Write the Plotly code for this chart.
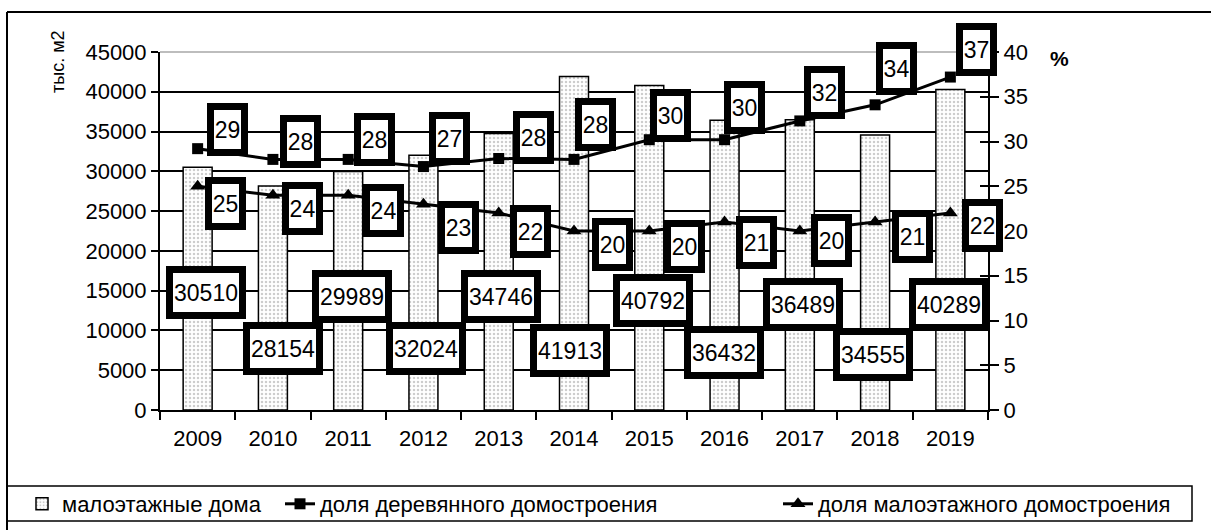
import plotly.graph_objects as go

# ---------------- data ----------------
years = ["2009", "2010", "2011", "2012", "2013", "2014", "2015", "2016", "2017", "2018", "2019"]
lowrise_area = [30510, 28154, 29989, 32024, 34746, 41913, 40792, 36432, 36489, 34555, 40289]
wood_share = [29.2, 28.0, 28.0, 27.2, 28.1, 28.0, 30.2, 30.2, 32.3, 34.1, 37.2]
lowrise_share = [25, 24, 24, 23, 22, 20, 20, 21, 20, 21, 22]
left_ticks = [0, 5000, 10000, 15000, 20000, 25000, 30000, 35000, 40000, 45000]
right_ticks = [0, 5, 10, 15, 20, 25, 30, 35, 40]

name_bar = "малоэтажные дома"
name_wood = "доля деревянного домостроения"
name_low = "доля малоэтажного домостроения"

# ---------------- label placement (styling only) ----------------
area_label_y = [14830, 7790, 14270, 7730, 14270, 7480, 13760, 7290, 13200, 6980, 13260]
area_label_dx = [8, 10, 4, 3, 2, -4, 4, -1, 3, -2, -1]
wood_label_dx = [30, 28, 26, 26, 35, 21, 21, 20, 25, 21, 26]
wood_label_dy = [19, 18, 20, 28, 21, 35, 24, 32, 28, 36, 28]
low_label_dx = [28, 30, 35, 35, 32, 38, 35, 32, 32, 37, 32]
low_label_dy = [-17, -13, -15, -23, -18, -13, -15, -20, -9, -14, -12]

FONT = "Arial, Liberation Sans, sans-serif"
W, H = 1211, 530
L, R, T, B = 160, 988, 52, 410


def px(xp):
    return xp / W


def py(yp):
    return 1 - yp / H


fig = go.Figure()

fig.add_trace(go.Bar(
    x=years, y=lowrise_area, name=name_bar, width=0.385,
    marker=dict(color="white", line=dict(color="black", width=1.5),
                pattern=dict(shape=".", size=4, solidity=0.3,
                             fgcolor="#9a9a9a", bgcolor="white")),
    yaxis="y", legend="legend",
))
fig.add_trace(go.Scatter(
    x=years, y=wood_share, name=name_wood, mode="lines+markers",
    line=dict(color="black", width=3),
    marker=dict(symbol="square", size=11, color="black"),
    yaxis="y2", legend="legend2",
))
fig.add_trace(go.Scatter(
    x=years, y=lowrise_share, name=name_low, mode="lines+markers",
    line=dict(color="black", width=3),
    marker=dict(symbol="triangle-up", size=13, color="black"),
    yaxis="y2", legend="legend3",
))
# invisible helper trace to activate the inner-tick overlay axis
fig.add_trace(go.Scatter(x=[years[0]], y=[0], yaxis="y3", mode="markers",
                         marker=dict(opacity=0), showlegend=False, hoverinfo="skip"))

annotations = []
label_font = dict(family=FONT, size=23, color="black")
BW = 7
for i, yr in enumerate(years):
    annotations.append(dict(
        x=i, y=area_label_y[i], xref="x", yref="y", text=str(lowrise_area[i]),
        showarrow=False, xshift=area_label_dx[i], xanchor="center", yanchor="middle",
        font=label_font, bgcolor="white", bordercolor="black", borderwidth=BW,
        borderpad=0, width=66, height=39))
    annotations.append(dict(
        x=i, y=wood_share[i], xref="x", yref="y2", text=str(round(wood_share[i])),
        showarrow=False, xshift=wood_label_dx[i], yshift=wood_label_dy[i],
        xanchor="center", yanchor="middle",
        font=label_font, bgcolor="white", bordercolor="black", borderwidth=BW,
        borderpad=0, width=27, height=39))
    annotations.append(dict(
        x=i, y=lowrise_share[i], xref="x", yref="y2", text=str(round(lowrise_share[i])),
        showarrow=False, xshift=low_label_dx[i], yshift=low_label_dy[i],
        xanchor="center", yanchor="middle",
        font=label_font, bgcolor="white", bordercolor="black", borderwidth=BW,
        borderpad=0, width=27, height=39))

annotations.append(dict(
    x=px(58), y=py(62), xref="paper", yref="paper", text="тыс. м2", textangle=-90,
    showarrow=False, xanchor="center", yanchor="middle",
    font=dict(family=FONT, size=18, color="black")))
annotations.append(dict(
    x=px(1059), y=py(59), xref="paper", yref="paper", text="<b>%</b>",
    showarrow=False, xanchor="center", yanchor="middle",
    font=dict(family=FONT, size=21, color="black")))

shapes = [
    # top gridline drawn grey
    dict(type="line", xref="paper", yref="paper", x0=px(L), x1=px(R), y0=py(T), y1=py(T),
         line=dict(color="#bdbdbd", width=2), layer="above"),
    # outer chart border
    dict(type="line", xref="paper", yref="paper", x0=px(7), x1=px(1215), y0=py(12), y1=py(12),
         line=dict(color="black", width=2)),
    dict(type="line", xref="paper", yref="paper", x0=px(7), x1=px(7), y0=py(12), y1=py(535),
         line=dict(color="black", width=2)),
    # legend box
    dict(type="rect", xref="paper", yref="paper", x0=px(7), x1=px(1192), y0=py(486), y1=py(521),
         line=dict(color="black", width=1.5)),
]

leg_common = dict(orientation="h", yanchor="middle", xanchor="left",
                  font=dict(family=FONT, size=22, color="black"),
                  bgcolor="rgba(0,0,0,0)", borderwidth=0, itemwidth=30)

tick_font = dict(family=FONT, size=22, color="black")

fig.update_layout(
    width=W, height=H,
    margin=dict(l=0, r=0, t=0, b=0, pad=0),
    paper_bgcolor="white", plot_bgcolor="white",
    font=dict(family=FONT, size=20, color="black"),
    showlegend=True,
    legend=dict(x=px(22), y=py(504), **leg_common),
    legend2=dict(x=px(280), y=py(504), **leg_common),
    legend3=dict(x=px(778), y=py(504), **leg_common),
    xaxis=dict(type="category", range=[-0.5, 10.5], domain=[px(L), px(R)],
               tickson="boundaries", anchor="y",
               ticks="outside", ticklen=8, tickwidth=1.5, tickcolor="black",
               showline=True, linecolor="black", linewidth=2, showgrid=False,
               tickfont=tick_font, ticklabelstandoff=8, automargin=False),
    yaxis=dict(range=[0, 45000], domain=[py(B), py(T)], tickvals=left_ticks,
               tickformat="d", ticks="outside", ticklen=7,
               tickwidth=1.5, tickcolor="black", showline=True, linecolor="black",
               linewidth=2, showgrid=True, gridcolor="black", gridwidth=1.5,
               zeroline=False, tickfont=tick_font, automargin=False),
    yaxis2=dict(range=[0, 40], tickvals=right_ticks, overlaying="y", side="right",
                anchor="x", ticks="outside", ticklen=9, tickwidth=1.5, tickcolor="black",
                showline=True, linecolor="black", linewidth=2, showgrid=False,
                zeroline=False, tickfont=tick_font, automargin=False),
    yaxis3=dict(range=[0, 40], tickvals=right_ticks, overlaying="y", side="right",
                anchor="x", ticks="inside", ticklen=8, tickwidth=1.5, tickcolor="black",
                showline=False, showgrid=False, zeroline=False, showticklabels=False,
                automargin=False),
    annotations=annotations,
    shapes=shapes,
)

fig.write_html(
    "out.html",
    config={"displayModeBar": False},
    post_script="document.body.style.margin='0';document.body.style.padding='0';",
)
